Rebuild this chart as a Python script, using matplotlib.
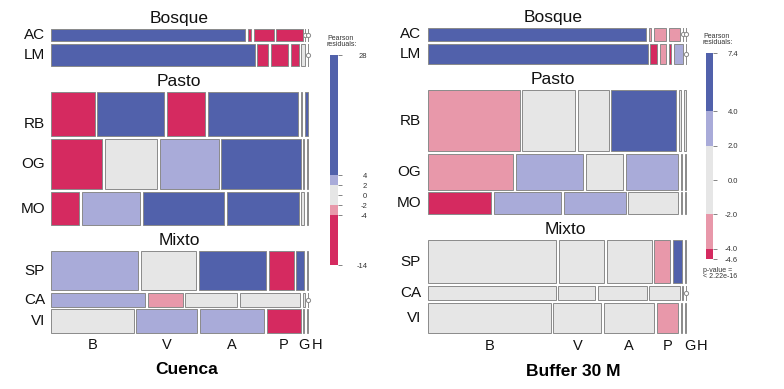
import matplotlib
matplotlib.use('Agg')
import matplotlib.pyplot as plt
import matplotlib as mpl
from matplotlib.patches import Rectangle
from matplotlib.colors import ListedColormap, BoundaryNorm

plt.rcParams['font.family'] = ['Liberation Sans', 'DejaVu Sans']

# ---------------- data ----------------
columns = ['B', 'V', 'A', 'P', 'G', 'H']
groups = ['Bosque', 'Pasto', 'Mixto']
group_rows = [['AC', 'LM'], ['RB', 'OG', 'MO'], ['SP', 'CA', 'VI']]

# Cuenca panel: counts per row (B V A P G H)
cuenca_counts = {
    'AC': [192, 3, 20, 26, 0, 0],
    'LM': [384, 21, 32, 15, 8, 0],
    'RB': [158, 240, 140, 326, 5, 11],
    'OG': [214, 218, 248, 332, 4, 4],
    'MO': [78, 164, 226, 201, 8, 3],
    'SP': [279, 177, 215, 80, 26, 3],
    'CA': [108, 40, 60, 69, 3, 0],
    'VI': [163, 120, 126, 67, 2, 2],
}
cuenca_resid = {
    'AC': [20, -5, -8, -6, -1, -1],
    'LM': [28, -9, -10, -8, -1, -1],
    'RB': [-12, 12, -9, 8, 0, 5],
    'OG': [-10, 0, 3, 10, 0, 0],
    'MO': [-8, 3, 10, 9, 0, 0],
    'SP': [3, 1, 9, -8, 6, 0],
    'CA': [3, -3, 0, 1, 0, -1],
    'VI': [0, 3, 3, -9, 0, 0],
}
cuenca_breaks = [-14, -4, -2, 2, 4, 28]
cuenca_ticks = [28, 4, 2, 0, -2, -4, -14]
cuenca_ticklabels = ['28', '4', '2', '0', '-2', '-4', '-14']

# Buffer 30 M panel
buffer_counts = {
    'AC': [232, 3, 13, 12, 0, 0],
    'LM': [378, 12, 10, 4, 16, 0],
    'RB': [458, 264, 153, 325, 10, 10],
    'OG': [252, 199, 110, 154, 3, 3],
    'MO': [114, 121, 112, 90, 2, 2],
    'SP': [453, 158, 158, 56, 32, 4],
    'CA': [157, 45, 60, 37, 1, 0],
    'VI': [302, 118, 123, 52, 3, 3],
}
buffer_resid = {
    'AC': [7, -3, -3, -3, -1, -1],
    'LM': [7.4, -4.6, -3, -4.2, 3, -1],
    'RB': [-3, 0, 0, 6, 0, 0],
    'OG': [-3, 3, 0, 3, 0, 0],
    'MO': [-4.5, 3, 3, 0, 0, 0],
    'SP': [0, 0, 0, -3, 5, 0],
    'CA': [0, 0, 0, 0, 0, -1],
    'VI': [0, 0, 0, -3, 0, 0],
}
buffer_breaks = [-4.6, -4, -2, 2, 4, 7.4]
buffer_ticks = [7.4, 4.0, 2.0, 0.0, -2.0, -4.0, -4.6]
buffer_ticklabels = ['7.4', '4.0', '2.0', '0.0', '-2.0', '-4.0', '-4.6']

panel_titles = ['Cuenca', 'Buffer 30 M']

shade_colors = ['#D52A60', '#E898AA', '#E6E6E6', '#A9ABD9', '#5161AB']

# ---------------- figure ----------------
W, H = 784, 389
fig = plt.figure(figsize=(W / 100, H / 100), dpi=100)
ax = fig.add_axes([0, 0, 1, 1])
ax.set_xlim(0, W)
ax.set_ylim(H, 0)
ax.axis('off')

EDGE = '#8a8a8a'


def draw_panel(counts, resid, breaks, ticks, ticklabels, layout):
    cmap = ListedColormap(shade_colors)
    norm = BoundaryNorm(breaks, cmap.N)
    x0, x1, y0, y1 = layout['box']
    cg, rg, gg = layout['cell_gap'], layout['row_gap'], layout['group_gap']
    all_rows = [r for g in group_rows for r in g]
    totals = {r: sum(counts[r]) for r in all_rows}
    grand = sum(totals.values())
    n_rowgaps = sum(len(g) - 1 for g in group_rows)
    avail_h = (y1 - y0) - gg * (len(group_rows) - 1) - rg * n_rowgaps
    avail_w = (x1 - x0) - cg * (len(columns) - 1)
    y = y0
    last_centers = None
    for gi, (gname, rows) in enumerate(zip(groups, group_rows)):
        # group title
        gx = layout['title_x'][gi]
        ax.text(gx, y - layout['title_off'], gname, ha='center', va='baseline',
                fontsize=12.5, color='#111111')
        for ri, r in enumerate(rows):
            h = totals[r] / grand * avail_h
            x = x0
            centers = []
            for ci, c in enumerate(columns):
                n = counts[r][ci]
                w = n / totals[r] * avail_w
                if n == 0:
                    ax.plot([x, x], [y, y + h], color=EDGE, lw=0.7)
                    ax.plot(x, y + h / 2, 'o', ms=3, mfc='white', mec=EDGE, mew=0.7)
                else:
                    col = cmap(norm(resid[r][ci]))
                    ax.add_patch(Rectangle((x, y), w, h, facecolor=col,
                                           edgecolor=EDGE, lw=0.7))
                centers.append(x + w / 2)
                x += w + cg
            dy = layout['label_dy'].get(r, 0)
            ax.text(layout['label_x'], y + h / 2 + dy, r, ha='right', va='center',
                    fontsize=11, color='#111111')
            last_centers = centers
            y += h
            if ri < len(rows) - 1:
                y += rg
        y += gg
    # column labels at bottom row cell centers
    for ci, c in enumerate(columns):
        ax.text(last_centers[ci] + layout['col_nudge'][ci], layout['col_y'], c,
                ha='center', va='center', fontsize=10.5, color='#111111')
    ax.text(layout['xlab'][0], layout['xlab'][1], layout['xlab'][2],
            ha='center', va='center', fontsize=12.5, fontweight='bold')
    # legend
    bx, by0, bw, by1 = layout['bar']
    cax = fig.add_axes([bx / W, 1 - by1 / H, bw / W, (by1 - by0) / H])
    cb = mpl.colorbar.ColorbarBase(cax, cmap=cmap, norm=norm, boundaries=breaks,
                                   spacing='proportional', ticks=ticks)
    cb.outline.set_visible(False)
    cax.set_yticklabels(ticklabels)
    cax.tick_params(length=3, width=0.5, colors='#555555', labelsize=5.5,
                    pad=layout['tick_pad'], labelcolor='#333333')
    for t in cax.get_yticklabels():
        t.set_ha('right')
    lx, ly = layout['leg_text']
    ax.text(lx, ly, 'Pearson', ha='left', va='center', fontsize=5, color='#333333')
    ax.text(lx, ly + 6.5, 'residuals:', ha='left', va='center', fontsize=5, color='#333333')
    if layout.get('pval'):
        px, py = layout['pval']
        ax.text(px, py, 'p-value =', ha='left', va='center', fontsize=5, color='#333333')
        ax.text(px, py + 7, '< 2.22e-16', ha='left', va='center', fontsize=5, color='#333333')


left_layout = dict(box=(51, 308, 29, 333), cell_gap=2.6, row_gap=2.6, group_gap=26,
                   title_x=[179, 179, 179], title_off=6.5, label_x=45,
                   label_dy={'RB': 10}, col_y=345, col_nudge=[0, 0, 0, 0, 0, 10],
                   xlab=(187, 370, panel_titles[0]),
                   bar=(330, 55, 8, 265), tick_pad=18, leg_text=(327, 38), pval=None)
right_layout = dict(box=(428, 686, 28, 333), cell_gap=2.8, row_gap=2.6, group_gap=26,
                    title_x=[553, 553, 565], title_off=6, label_x=421,
                    label_dy={}, col_y=346, col_nudge=[0, 0, 0, 0, 9, 17],
                    xlab=(573, 372, panel_titles[1]),
                    bar=(706, 53, 7, 259), tick_pad=15, leg_text=(703, 36),
                    pval=(703, 270))

draw_panel(cuenca_counts, cuenca_resid, cuenca_breaks, cuenca_ticks,
           cuenca_ticklabels, left_layout)
draw_panel(buffer_counts, buffer_resid, buffer_breaks, buffer_ticks,
           buffer_ticklabels, right_layout)

fig.savefig('out.png', dpi=100)
